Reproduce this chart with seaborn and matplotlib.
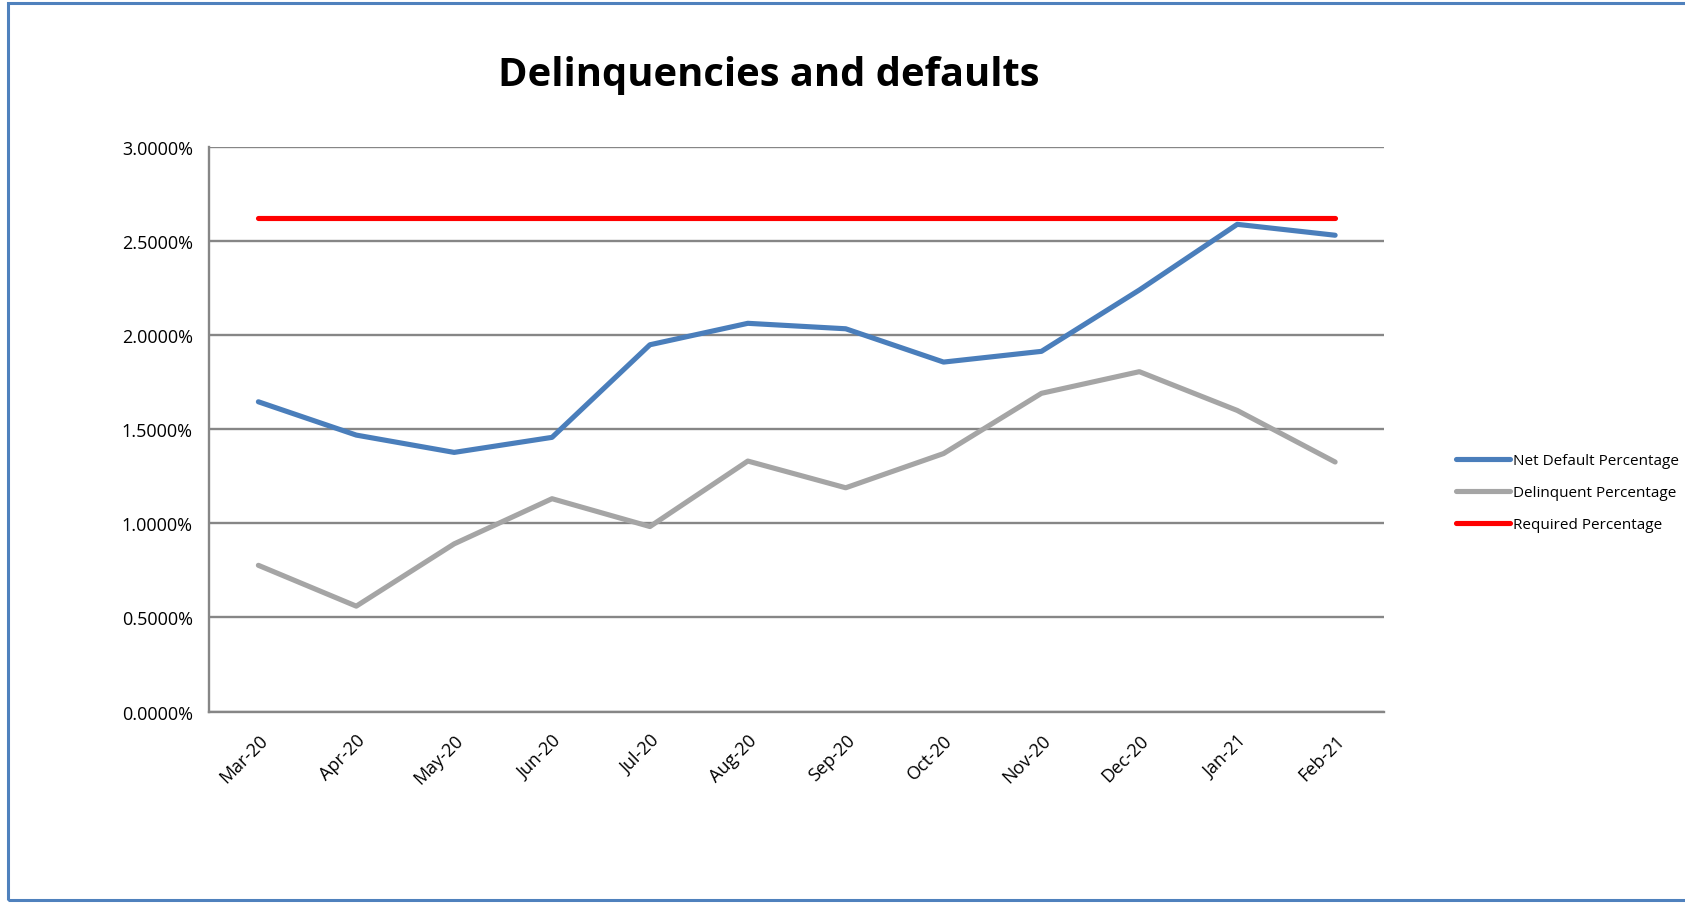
import pandas as pd
import matplotlib.pyplot as plt
import seaborn as sns
from matplotlib.patches import Rectangle
from matplotlib.ticker import FuncFormatter, FixedLocator

# ---- Data (in %) ----
months = ["Mar-20", "Apr-20", "May-20", "Jun-20", "Jul-20", "Aug-20",
          "Sep-20", "Oct-20", "Nov-20", "Dec-20", "Jan-21", "Feb-21"]
net_default = [1.646, 1.469, 1.377, 1.457, 1.949, 2.063,
               2.034, 1.857, 1.914, 2.240, 2.589, 2.531]
delinquent = [0.777, 0.560, 0.891, 1.131, 0.983, 1.331,
              1.189, 1.371, 1.691, 1.806, 1.600, 1.326]
required = [2.623] * 12

series = ["Net Default Percentage", "Delinquent Percentage", "Required Percentage"]
colors = ["#4A7EBB", "#A5A5A5", "#FF0000"]

df = pd.DataFrame({"Month": months * 3,
                   "Value": net_default + delinquent + required,
                   "Series": [series[0]] * 12 + [series[1]] * 12 + [series[2]] * 12})
df["x"] = list(range(12)) * 3

sns.set_style("white")
plt.rcParams["font.family"] = ["Open Sans", "DejaVu Sans"]
plt.rcParams["text.color"] = "black"
plt.rcParams["xtick.color"] = "black"
plt.rcParams["ytick.color"] = "black"

fig = plt.figure(figsize=(16.85, 9.04), dpi=100)
ax = fig.add_axes([0.1243, 0.2118, 0.6971, 0.6245])

sns.lineplot(data=df, x="x", y="Value", hue="Series", hue_order=series,
             palette=colors, linewidth=3.7, ax=ax, legend=False,
             solid_capstyle="round", solid_joinstyle="round")

ax.set_xlim(-0.5, 11.5)
ax.set_ylim(0, 3.0)
ax.set_yticks([0, 0.5, 1.0, 1.5, 2.0, 2.5, 3.0])
ax.yaxis.set_major_formatter(FuncFormatter(lambda v, p: f"{v:.4f}%"))
ax.set_xticks(range(12))
ax.set_xticklabels(months, rotation=45, ha="right", rotation_mode="anchor", fontsize=13)
ax.xaxis.set_minor_locator(FixedLocator([i - 0.5 for i in range(13)]))
ax.tick_params(axis="x", which="major", length=0, pad=14)
ax.tick_params(axis="x", which="minor", length=6, width=1.6, color="#868686")
ax.tick_params(axis="y", length=6, width=1.6, color="#868686", labelsize=13, pad=6)
ax.set_xlabel("")
ax.set_ylabel("")

ax.grid(axis="y", color="#868686", linewidth=1.7)
ax.set_axisbelow(True)
for side in ["top", "right"]:
    ax.spines[side].set_visible(False)
for side in ["left", "bottom"]:
    ax.spines[side].set_color("#868686")
    ax.spines[side].set_linewidth(1.7)

fig.text(0.4565, 0.916, "Delinquencies and defaults", ha="center", va="center",
         fontsize=28.7, fontweight="bold", color="black")

handles = [plt.Line2D([], [], color=c, linewidth=3.7, solid_capstyle="round") for c in colors]
fig.legend(handles, series, loc="center left", bbox_to_anchor=(0.856, 0.454),
           frameon=False, fontsize=11, handlelength=3.5, handletextpad=0.25,
           labelspacing=1.1)

# chart frame
fig.patches.append(Rectangle((8 / 1685, 3 / 904), 1.2, 897 / 904, transform=fig.transFigure,
                             fill=False, edgecolor="#4F81BD", linewidth=2.2))

fig.savefig("out.png", dpi=100, facecolor="white")
